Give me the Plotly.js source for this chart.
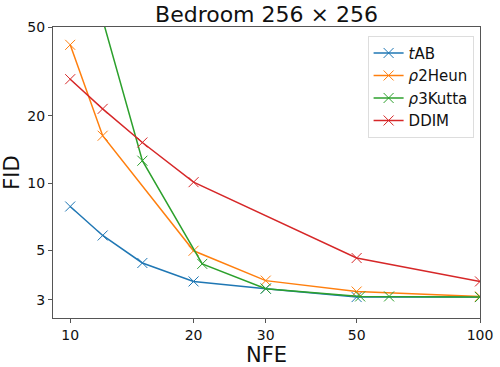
<!DOCTYPE html>
<html>
<head>
<meta charset="utf-8">
<script src="https://cdn.plot.ly/plotly-3.0.1.min.js"></script>
<style>
  body { margin: 0; }
  #chart { width: 500px; height: 367px; }
</style>
</head>
<body>
<div id="chart"></div>
<script>
// NFE / FID values
const tabNfe = [10, 12, 15, 20, 30, 50, 100];
const tabFid = [7.86, 5.83, 4.39, 3.63, 3.37, 3.09, 3.09];

const heunNfe = [10, 12, 20, 30, 50, 100];
const heunFid = [41.6, 16.3, 4.98, 3.66, 3.27, 3.11];

const kuttaNfe = [12, 15, 21, 30, 51, 60, 100];
const kuttaFid = [54, 12.6, 4.35, 3.37, 3.11, 3.11, 3.09];

const ddimNfe = [10, 12, 15, 20, 50, 100];
const ddimFid = [29.2, 21.5, 15.2, 10.1, 4.62, 3.63];

const xTicks = [10, 20, 30, 50, 100];
const yTicks = [3, 5, 10, 20, 50];

function series(name, x, y, color) {
  return {
    x: x, y: y, name: name,
    type: 'scatter', mode: 'lines+markers',
    line: { color: color, width: 1.5 },
    marker: { symbol: 'x-thin', size: 10, line: { color: color, width: 1 } }
  };
}

const traces = [
  series('<i>t</i>AB', tabNfe, tabFid, '#1f77b4'),
  series('<i>ρ</i>2Heun', heunNfe, heunFid, '#ff7f0e'),
  series('<i>ρ</i>3Kutta', kuttaNfe, kuttaFid, '#2ca02c'),
  series('DDIM', ddimNfe, ddimFid, '#d62728')
];

const axisStyle = {
  showline: true, mirror: true, linecolor: '#555', linewidth: 1,
  ticks: 'outside', ticklen: 4, tickcolor: '#555',
  showgrid: false, zeroline: false,
  tickfont: { size: 14, color: '#111' }
};

const layout = {
  width: 500, height: 367,
  margin: { l: 53, r: 20, t: 27, b: 49 },
  font: { family: 'DejaVu Sans', color: '#111' },
  paper_bgcolor: 'white', plot_bgcolor: 'white',
  title: { text: 'Bedroom 256 × 256', font: { size: 22 }, x: 0.533, xanchor: 'center', y: 0.94, yanchor: 'bottom' },
  xaxis: Object.assign({}, axisStyle, {
    type: 'log', range: [0.958, 2.0],
    tickvals: xTicks, ticktext: xTicks.map(String),
    title: { text: 'NFE', font: { size: 21 }, standoff: 4 }
  }),
  yaxis: Object.assign({}, axisStyle, {
    type: 'log', range: [Math.log10(2.49), Math.log10(50)],
    tickvals: yTicks, ticktext: yTicks.map(String),
    title: { text: 'FID', font: { size: 21 }, standoff: 2 }
  }),
  legend: {
    x: 0.985, xanchor: 'right', y: 0.97, yanchor: 'top',
    bgcolor: 'white', bordercolor: '#ddd', borderwidth: 1,
    font: { size: 15 }
  },
  showlegend: true
};

Plotly.newPlot('chart', traces, layout, { displayModeBar: false, staticPlot: true });
</script>
</body>
</html>
